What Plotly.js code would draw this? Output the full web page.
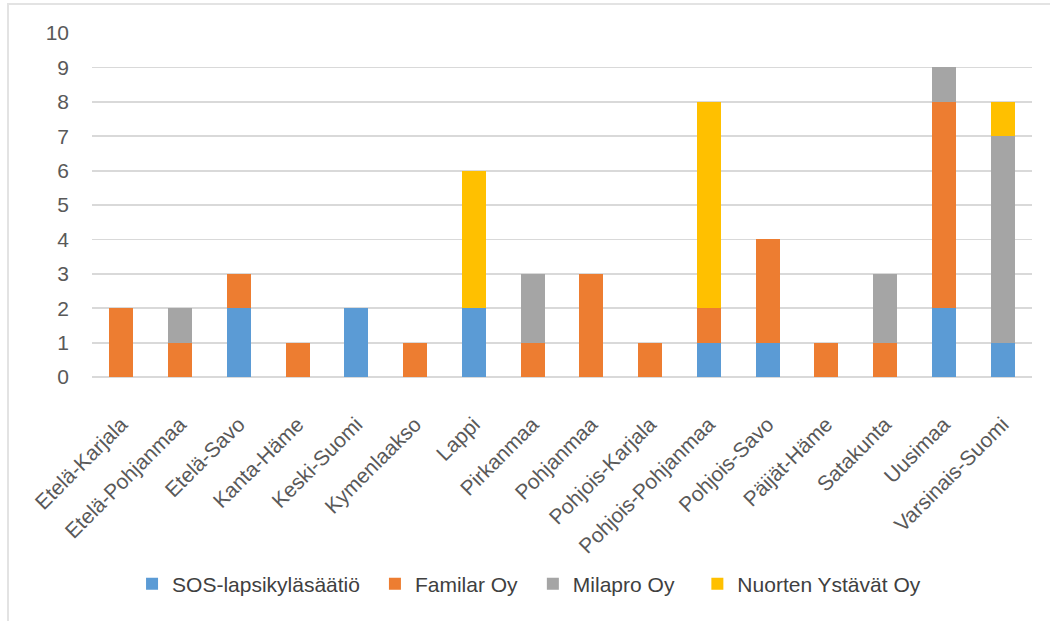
<!DOCTYPE html>
<html>
<head>
<meta charset="utf-8">
<script src="https://cdn.plot.ly/plotly-3.0.1.min.js"></script>
<style>
  html, body { margin: 0; padding: 0; background: #fff; }
  #chart { position: absolute; left: 0; top: 0; width: 1050px; height: 621px; }
  #frame {
    position: absolute; left: 7px; top: 3px; width: 1043px; height: 618px;
    border-top: 2px solid #e3e3e3; border-left: 2px solid #e3e3e3;
    pointer-events: none; box-sizing: border-box;
  }
</style>
</head>
<body>
<div id="chart"></div>
<div id="frame"></div>
<script>
// Regions (maakunnat)
const regions = [
  "Etelä-Karjala", "Etelä-Pohjanmaa", "Etelä-Savo", "Kanta-Häme", "Keski-Suomi",
  "Kymenlaakso", "Lappi", "Pirkanmaa", "Pohjanmaa", "Pohjois-Karjala",
  "Pohjois-Pohjanmaa", "Pohjois-Savo", "Päijät-Häme", "Satakunta", "Uusimaa",
  "Varsinais-Suomi"
];

// Counts per service provider
const sosLapsikylasaatio = [0, 0, 2, 0, 2, 0, 2, 0, 0, 0, 1, 1, 0, 0, 2, 1];
const familarOy          = [2, 1, 1, 1, 0, 1, 0, 1, 3, 1, 1, 3, 1, 1, 6, 0];
const milaproOy          = [0, 1, 0, 0, 0, 0, 0, 2, 0, 0, 0, 0, 0, 2, 1, 6];
const nuortenYstavatOy   = [0, 0, 0, 0, 0, 0, 4, 0, 0, 0, 6, 0, 0, 0, 0, 1];

const yTicks = [0, 1, 2, 3, 4, 5, 6, 7, 8, 9, 10];

const seriesNames = ["SOS-lapsikyläsäätiö", "Familar Oy", "Milapro Oy", "Nuorten Ystävät Oy"];
const seriesValues = [sosLapsikylasaatio, familarOy, milaproOy, nuortenYstavatOy];
const seriesColors = ["#5B9BD5", "#ED7D31", "#A5A5A5", "#FFC000"];

// each series gets its own legend box so the entries can be spaced individually
const legendIds = ["legend", "legend2", "legend3", "legend4"];
const legendX = [0.0426, 0.301, 0.469, 0.644];

const traces = seriesNames.map((name, i) => ({
  type: "bar",
  name: name,
  x: regions,
  y: seriesValues[i],
  legend: legendIds[i],
  marker: { color: seriesColors[i], line: { width: 0 } },
  hoverinfo: "x+y+name"
}));

const textFont = { family: "Liberation Sans, Arial, sans-serif", size: 21, color: "#595959" };
const legendFont = { family: "Liberation Sans, Arial, sans-serif", size: 21, color: "#404040" };

const layout = {
  width: 1050,
  height: 621,
  barmode: "stack",
  bargap: 0.59,
  paper_bgcolor: "rgba(0,0,0,0)",
  plot_bgcolor: "#ffffff",
  margin: { l: 92, r: 18, t: 33, b: 244 },
  font: textFont,
  showlegend: true,
  xaxis: {
    type: "category",
    tickangle: -45,
    tickfont: textFont,
    showgrid: false,
    showline: false,
    ticks: "",
    ticklabelstandoff: 30
  },
  yaxis: {
    range: [0, 10],
    tickvals: yTicks,
    ticktext: yTicks.map(String),
    tickfont: textFont,
    showgrid: true,
    gridcolor: "#d9d9d9",
    gridwidth: 1.8,
    zeroline: true,
    zerolinecolor: "#d9d9d9",
    zerolinewidth: 1.8,
    showline: false,
    ticks: "",
    ticklabelstandoff: 22,
    fixedrange: true
  }
};

legendIds.forEach((id, i) => {
  layout[id] = {
    orientation: "h",
    x: legendX[i], xanchor: "left",
    y: -0.602, yanchor: "middle",
    font: legendFont,
    bgcolor: "rgba(0,0,0,0)",
    borderwidth: 0,
    itemclick: false
  };
});

Plotly.newPlot("chart", traces, layout, { displayModeBar: false, staticPlot: true });
</script>
</body>
</html>
